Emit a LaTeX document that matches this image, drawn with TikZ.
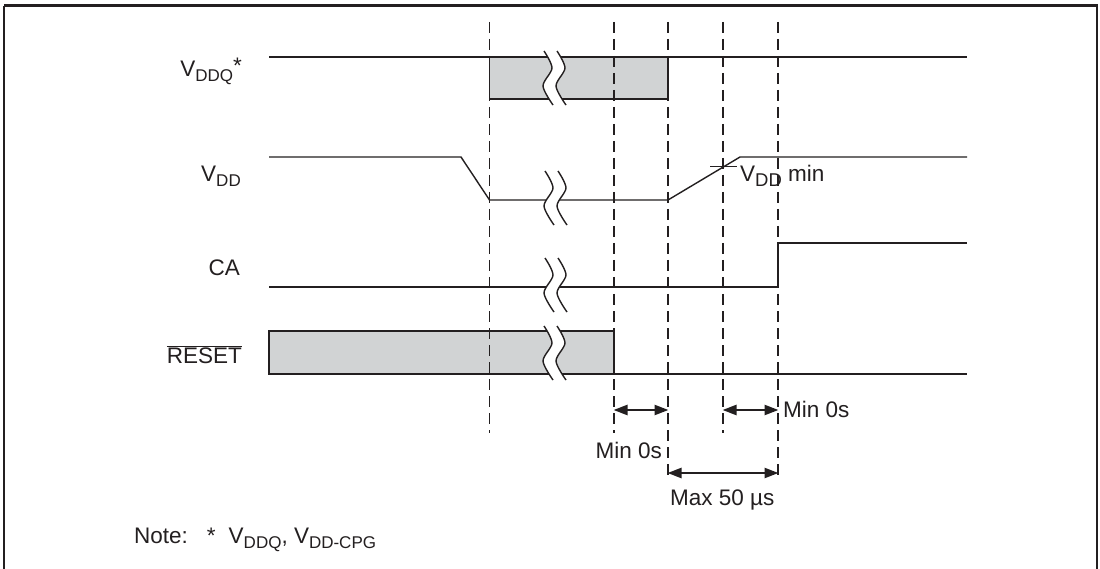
\documentclass[tikz,border=0pt]{standalone}
\usepackage{fontspec}
\setmainfont{Liberation Sans}
\usetikzlibrary{arrows.meta}
\definecolor{ink}{HTML}{231F20}
\definecolor{boxgray}{HTML}{D1D3D4}
\newcommand\sbs[1]{\raisebox{-5pt}{\fontsize{17}{18}\selectfont #1}}
\newcommand\sbl[1]{\raisebox{-5pt}{\fontsize{18.5}{19}\selectfont #1}}
\newcommand\brkmark[2]{%
  \fill[white, shift={(#1,#2)}] plot[smooth] coordinates {(0,-27) (8,-10) (-1,8) (9,27)}
     -- plot[smooth] coordinates {(22,27) (12,8) (21,-10) (13,-27)} -- cycle;
  \draw[sig, shift={(#1,#2)}] plot[smooth] coordinates {(0,-27) (8,-10) (-1,8) (9,27)};
  \draw[sig, shift={(#1,#2)}] plot[smooth] coordinates {(13,-27) (21,-10) (12,8) (22,27)};
}
\begin{document}
\begin{tikzpicture}[x=1pt, y=-1pt,
  sig/.style={draw=ink, line width=1.4pt, line join=miter},
  gbox/.style={sig, fill=boxgray},
  guide/.style={draw=ink, line width=1.2pt, dash pattern=on 11pt off 6pt},
  dim/.style={draw=ink, line width=2.4pt, {Triangle[length=14pt,width=10pt]}-{Triangle[length=14pt,width=10pt]}, shorten <=-0.5pt, shorten >=-0.5pt},
  lbl/.style={inner sep=0pt, text=ink, font=\fontsize{22.5}{26}\selectfont}]
\useasboundingbox (0,0) rectangle (1100,569);
\fill[white] (0,0) rectangle (1100,569);
\draw[ink, line width=2.5pt] (4,5.7) -- (1097.2,5.7) -- (1097.2,590) (4,5.7) -- (4,590);

% guide lines
\foreach \n/\x/\yb in {g1/489.5/433, g2/614/433, g3/668/480, g4/723/433, g5/778/480}{
  \coordinate (\n t) at (\x,22);
  \coordinate (\n b) at (\x,\yb);
}

% VDDQ
\coordinate (q0) at (269,57);
\coordinate (q1) at (967,57);
\draw[gbox] (489.5,57) rectangle (668,99);
\draw[sig] (q0) -- (q1);
\brkmark{544}{78}

% VDD
\coordinate (d0) at (269,157);
\coordinate (d1) at (461,157);
\coordinate (d2) at (489.5,200);
\coordinate (d3) at (668,200);
\coordinate (d4) at (740,157);
\coordinate (d5) at (967,157);
\draw[sig] (d0) -- (d1) -- (d2) -- (d3) -- (d4) -- (d5);
\coordinate (tk0) at (710,166.5);
\coordinate (tk1) at (737,166.5);
\draw[sig] (tk0) -- (tk1);
\brkmark{545}{198}

% CA
\coordinate (c0) at (269,287);
\coordinate (c1) at (778,287);
\coordinate (c2) at (778,243);
\coordinate (c3) at (967,243);
\draw[sig] (c0) -- (c1) -- (c2) -- (c3);
\brkmark{545}{285}

% RESET
\coordinate (r0) at (614,374);
\coordinate (r1) at (967,374);
\draw[gbox] (269,331) rectangle (614,374);
\draw[sig] (r0) -- (r1);
\brkmark{544}{353}

% guides on top
\foreach \n in {g1,g2,g3,g4,g5}{ \draw[guide] (\n t) -- (\n b); }

% dimension arrows
\coordinate (a1) at (614,410);
\coordinate (a2) at (668,410);
\coordinate (a3) at (723,410);
\coordinate (a4) at (778,410);
\coordinate (a5) at (668,473);
\coordinate (a6) at (778,473);
\draw[dim] (a1) -- (a2);
\draw[dim] (a3) -- (a4);
\draw[dim] (a5) -- (a6);

% labels
\node[lbl, anchor=base east] (lq) at (242,77) {V\sbs{DDQ}\raisebox{3pt}{*}};
\node[lbl, anchor=base east] (ld) at (241,182) {V\sbs{DD}};
\node[lbl, anchor=base east] (lc) at (240,276) {CA};
\node[lbl, anchor=base east] (lr) at (242,363) {$\overline{\hbox{RESET}}$};
\node[lbl, anchor=base west] (lmin) at (740,182) {V\sbl{DD} min};
\node[lbl, anchor=base east] (m1) at (662,458) {Min 0s};
\node[lbl, anchor=base west] (m2) at (783,417) {Min 0s};
\node[lbl, anchor=base west] (m3) at (670,505) {Max 50 µs};
\node[lbl, anchor=base west] (note) at (134,543) {Note:\hspace{19pt}*\hspace{13pt}V\sbs{DDQ}, V\sbs{DD-CPG}};
\end{tikzpicture}
\end{document}
